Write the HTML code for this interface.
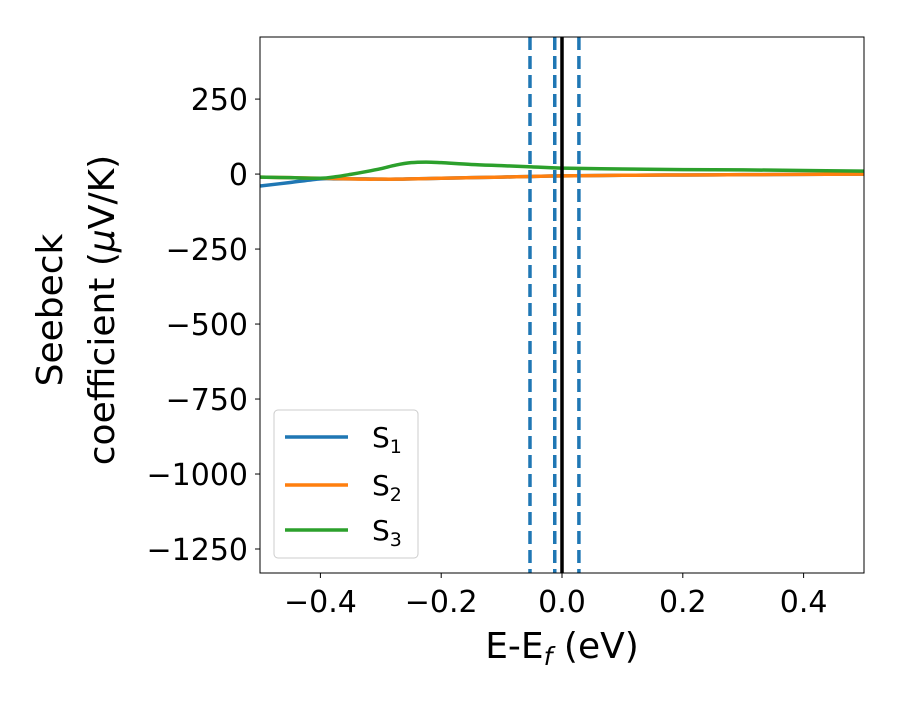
<!DOCTYPE html>
<html><head><meta charset="utf-8"><style>
body{margin:0;background:#fff}
svg text{font-family:"DejaVu Sans","Liberation Sans",sans-serif;fill:#000}
</style></head><body>
<svg id="chart" width="900" height="700" viewBox="0 0 900 700"></svg>
<script>
const xs = [-0.5,-0.45,-0.4,-0.375,-0.35,-0.325,-0.3,-0.275,-0.25,-0.225,-0.2,-0.15,-0.1,-0.05,0,0.1,0.2,0.3,0.4,0.5];
const s1 = [-40,-28,-16,-16,-16,-16,-17,-17,-16,-15,-14,-12,-10,-8,-6,-4,-3,-2,-1,0];
const s2 = [-10,-12,-14,-15,-16,-17,-17,-17,-16,-15,-14,-12,-10,-8,-6,-4,-3,-2,-1,0];
const s3 = [-10,-12,-14,-9,-1,8,18,30,38,40,38,32,28,24,20,17,15,14,12,10];
const xTicks = [-0.4,-0.2,0.0,0.2,0.4];
const xTickLabels = ["\u22120.4","\u22120.2","0.0","0.2","0.4"];
const yTicks = [250,0,-250,-500,-750,-1000,-1250];
const yTickLabels = ["250","0","\u2212250","\u2212500","\u2212750","\u22121000","\u22121250"];
const dashedX = [-0.053,-0.012,0.028];
const X0=260,X1=864,Y0=37,Y1=573;
const xMin=-0.5,xMax=0.5,yMin=-1330,yMax=457;
const sx=v=>X0+(v-xMin)/(xMax-xMin)*(X1-X0);
const sy=v=>Y1-(v-yMin)/(yMax-yMin)*(Y1-Y0);
const svg=document.getElementById('chart');
const NS='http://www.w3.org/2000/svg';
function mk(tag,attrs,parent){const e=document.createElementNS(NS,tag);for(const k in attrs)e.setAttribute(k,attrs[k]);(parent||svg).appendChild(e);return e;}
function smooth(d){
  const P=xs.map((x,i)=>[sx(x),sy(d[i])]);
  let s='M'+P[0][0]+','+P[0][1];
  for(let i=0;i<P.length-1;i++){
    const p0=P[Math.max(0,i-1)],p1=P[i],p2=P[i+1],p3=P[Math.min(P.length-1,i+2)];
    const c1=[p1[0]+(p2[0]-p0[0])/6,p1[1]+(p2[1]-p0[1])/6];
    const c2=[p2[0]-(p3[0]-p1[0])/6,p2[1]-(p3[1]-p1[1])/6];
    s+=' C'+c1[0]+','+c1[1]+' '+c2[0]+','+c2[1]+' '+p2[0]+','+p2[1];
  }
  return s;
}
const defs=mk('clipPath',{id:'clip'});mk('rect',{x:X0,y:Y0,width:X1-X0,height:Y1-Y0},defs);
const g=mk('g',{'clip-path':'url(#clip)'});


const series=[[s1,'#1f77b4','series-s1'],[s2,'#ff7f0e','series-s2'],[s3,'#2ca02c','series-s3']];
series.forEach(([d,c,n])=>{
  const p=mk('path',{d:smooth(d),fill:'none',stroke:c,'stroke-width':3.5,'stroke-linejoin':'round'},g);
  
  
});
dashedX.forEach((v,i)=>{
  const l=mk('line',{x1:sx(v),x2:sx(v),y1:Y0,y2:Y1,stroke:'#1f77b4','stroke-width':3.5,'stroke-dasharray':'13,6'},g);
  
  
});
const fl=mk('line',{x1:sx(0),x2:sx(0),y1:Y0,y2:Y1,stroke:'#000','stroke-width':3.5},g);


const fr=mk('rect',{x:X0,y:Y0,width:X1-X0,height:Y1-Y0,fill:'none',stroke:'#000','stroke-width':1});


xTicks.forEach((v,i)=>{
  mk('line',{x1:sx(v),x2:sx(v),y1:Y1,y2:Y1+5,stroke:'#000'});
  const t=mk('text',{x:sx(v),y:Y1+39,'text-anchor':'middle','font-size':30});
  t.textContent=xTickLabels[i];
  
  
});
yTicks.forEach((v,i)=>{
  mk('line',{x1:X0-5,x2:X0,y1:sy(v),y2:sy(v),stroke:'#000'});
  const t=mk('text',{x:X0-12,y:sy(v)+11,'text-anchor':'end','font-size':30});
  t.textContent=yTickLabels[i];
  
  
});
</script>
<svg width="900" height="700" style="position:absolute;left:0;top:0">
<text x="562" y="658" text-anchor="middle" font-size="36">E-E<tspan font-style="italic" font-size="25" dy="7">f</tspan><tspan dy="-7"> (eV)</tspan></text>
<text transform="translate(62,310) rotate(-90)" text-anchor="middle" font-size="36">Seebeck</text>
<text transform="translate(114,310) rotate(-90)" text-anchor="middle" font-size="36">coefficient  (<tspan font-style="italic">μ</tspan>V/K)</text>
<g>
<rect x="274" y="410" width="144" height="148" rx="4" fill="#fff" stroke="#ccc" stroke-width="1"/>
<line x1="285" x2="348" y1="437" y2="437" stroke="#1f77b4" stroke-width="3.5"/>
<text x="372" y="447" font-size="28">S<tspan font-size="19" dy="6">1</tspan></text>
<line x1="285" x2="348" y1="485" y2="485" stroke="#ff7f0e" stroke-width="3.5"/>
<text x="372" y="495" font-size="28">S<tspan font-size="19" dy="6">2</tspan></text>
<line x1="285" x2="348" y1="530" y2="530" stroke="#2ca02c" stroke-width="3.5"/>
<text x="372" y="540" font-size="28">S<tspan font-size="19" dy="6">3</tspan></text>
</g>
</svg>
</body></html>
